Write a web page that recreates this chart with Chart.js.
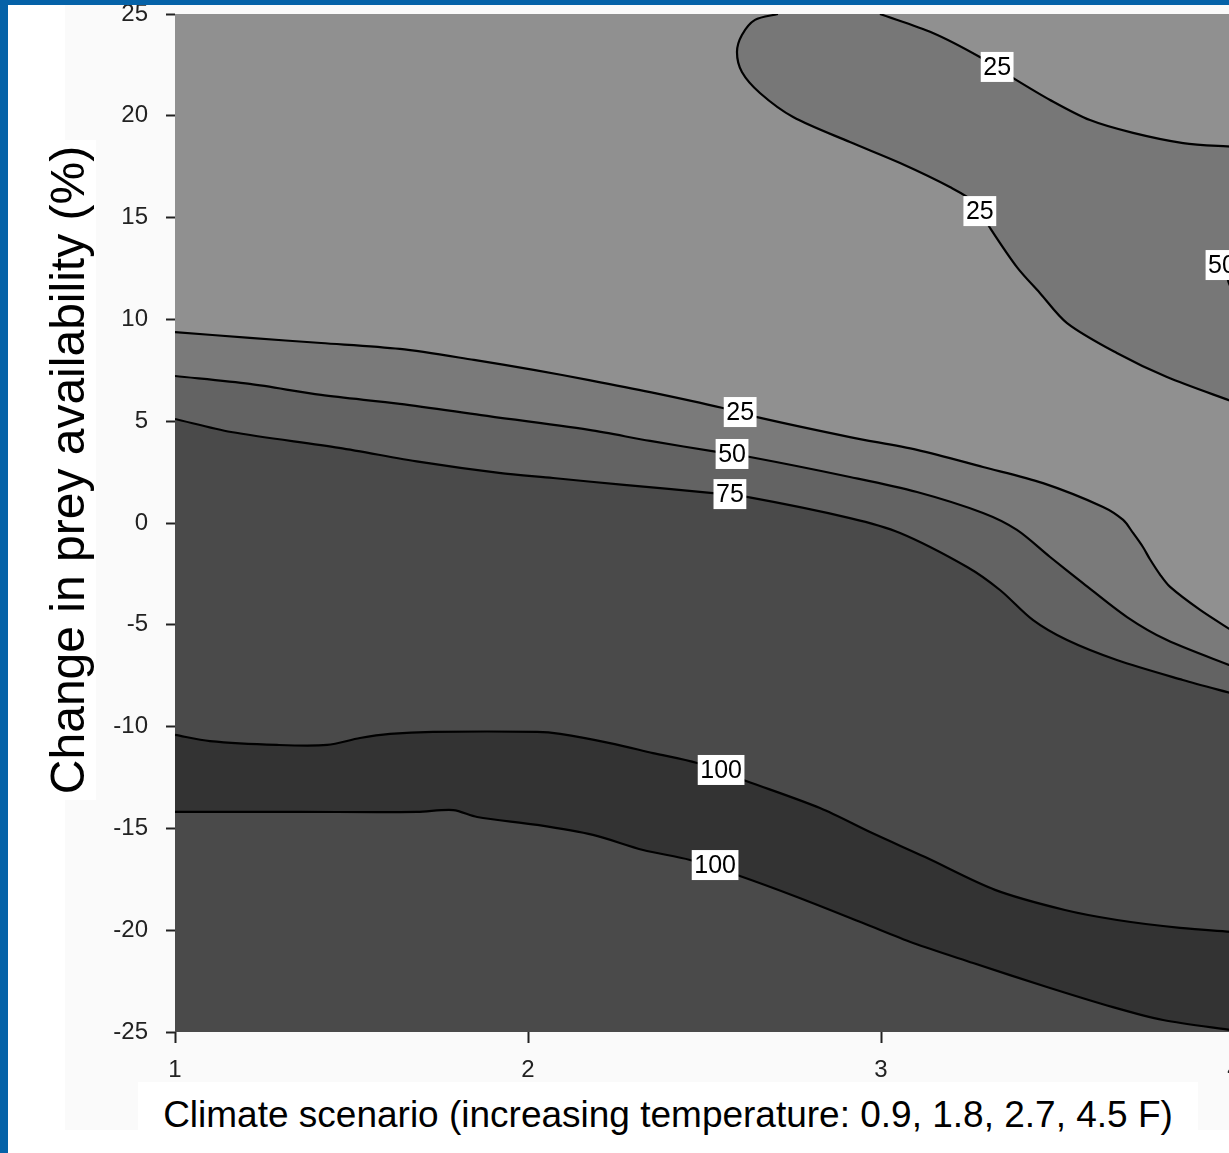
<!DOCTYPE html>
<html>
<head>
<meta charset="utf-8">
<script src="https://cdn.jsdelivr.net/npm/chart.js@4.4.1/dist/chart.umd.min.js"></script>
<style>
  body { margin: 0; background: #fff; overflow: hidden; width: 1229px; height: 1153px; position: relative;
         font-family: "Liberation Sans", Arial, sans-serif; }
  #panel { position: absolute; left: 65px; top: 5px; width: 1164px; height: 1125px; background: #fafafa; }
  #wrap { position: absolute; left: 0; top: 0; width: 1248px; height: 1153px; }
  #ytitle { position: absolute; left: -262px; top: 442px; width: 660px; height: 56px; line-height: 56px;
            transform: rotate(-90deg); background: #fff; text-align: center; font-size: 48px; color: #000; white-space: nowrap; }
  #xtitle { position: absolute; left: 138px; top: 1082px; width: 1060px; height: 66px; line-height: 66px;
            background: #fff; text-align: center; font-size: 37px; color: #000; white-space: nowrap; }
  .blue { position: absolute; background: #0562a8; }
</style>
</head>
<body>
<div id="panel"></div>
<div id="wrap"><canvas id="contour"></canvas></div>
<div id="ytitle">Change in prey availability (%)</div>
<div id="xtitle">Climate scenario (increasing temperature: 0.9, 1.8, 2.7, 4.5 F)</div>
<div class="blue" style="left:0;top:0;width:8px;height:1153px"></div>
<div class="blue" style="left:0;top:0;width:1229px;height:5px"></div>
<script>
// axis ticks
const xTicks = [1, 2, 3, 4];
const yTicks = [-25, -20, -15, -10, -5, 0, 5, 10, 15, 20, 25];

// contour lines (x = climate scenario, y = change in prey %)
const band25X = [1.000, 1.212, 1.414, 1.637, 1.847, 2.020, 2.173, 2.346, 2.552, 2.649, 2.912, 3.102, 3.289, 3.459, 3.629, 3.686, 3.714, 3.742, 3.762, 3.790, 3.819, 3.904, 4.000];
const band25Y = [9.38, 9.09, 8.84, 8.55, 8.01, 7.51, 7.02, 6.43, 5.65, 5.20, 4.22, 3.59, 2.75, 1.96, 0.79, 0.15, -0.49, -1.18, -1.78, -2.52, -3.14, -4.27, -5.35];

const band50X = [1.000, 1.212, 1.414, 1.637, 1.867, 2.173, 2.346, 2.535, 2.629, 2.912, 3.102, 3.289, 3.385, 3.479, 3.572, 3.697, 3.810, 4.000];
const band50Y = [7.22, 6.83, 6.29, 5.85, 5.30, 4.57, 4.03, 3.49, 3.24, 2.26, 1.52, 0.49, -0.34, -1.67, -2.95, -4.62, -5.75, -7.07];

const band75X = [1.000, 1.159, 1.465, 1.694, 1.918, 2.071, 2.272, 2.524, 2.620, 2.912, 3.054, 3.244, 3.337, 3.430, 3.527, 3.668, 3.855, 4.000];
const band75Y = [5.11, 4.47, 3.69, 3.00, 2.46, 2.21, 1.87, 1.47, 1.28, 0.24, -0.49, -2.16, -3.29, -4.76, -5.75, -6.73, -7.71, -8.40];

const ridge100TopX = [1.000, 1.099, 1.289, 1.431, 1.524, 1.609, 1.731, 2.026, 2.091, 2.232, 2.354, 2.479, 2.618, 2.827, 2.975, 3.125, 3.323, 3.521, 3.669, 3.847, 4.000];
const ridge100TopY = [-10.41, -10.71, -10.90, -10.90, -10.56, -10.36, -10.26, -10.26, -10.36, -10.81, -11.30, -11.79, -12.67, -14.00, -15.23, -16.41, -18.02, -19.01, -19.50, -19.89, -20.09];

const ridge100BottomX = [1.000, 1.354, 1.686, 1.788, 1.856, 2.026, 2.184, 2.326, 2.459, 2.592, 2.762, 2.949, 3.091, 3.261, 3.470, 3.657, 3.799, 4.000];
const ridge100BottomY = [-14.19, -14.19, -14.19, -14.10, -14.44, -14.83, -15.32, -16.06, -16.55, -17.29, -18.37, -19.65, -20.63, -21.61, -22.79, -23.78, -24.41, -24.92];

// the 25 "island" in the upper right
const islandLowX = [2.708, 2.643, 2.606, 2.592, 2.606, 2.657, 2.751, 2.912, 3.054, 3.195, 3.266, 3.309, 3.385, 3.450, 3.527, 3.668, 3.810, 4.000];
const islandLowY = [25.00, 24.71, 23.97, 23.13, 22.15, 21.12, 19.94, 18.71, 17.68, 16.50, 15.72, 14.49, 12.57, 11.30, 9.82, 8.35, 7.17, 5.94];
const islandHighX = [2.997, 3.147, 3.280, 3.374, 3.479, 3.592, 3.714, 3.856, 4.000];
const islandHighY = [25.00, 24.07, 22.89, 21.86, 20.78, 19.79, 19.16, 18.66, 18.47];

// 50 contour just touching the right edge
const edge50X = [4.02, 3.99, 3.978, 3.99, 4.02];
const edge50Y = [14.0, 13.0, 12.4, 11.6, 10.8];

// contour labels
const labelText = ['25', '50', '75', '25', '25', '50', '100', '100'];
const labelX = [2.601, 2.578, 2.572, 3.329, 3.280, 3.966, 2.547, 2.530];
const labelY = [5.45, 3.39, 1.42, 22.40, 15.32, 12.67, -12.13, -16.80];

const FONT = '"Liberation Sans", Arial, sans-serif';
Chart.defaults.font.family = FONT;

const pts = (xs, ys) => xs.map((x, i) => ({ x: x, y: ys[i] }));

function contour(data, fill, bg, order, stroke) {
  return {
    data: data,
    fill: fill,
    backgroundColor: bg,
    borderColor: '#000',
    borderWidth: stroke === false ? 0 : 2.2,
    pointRadius: 0,
    tension: 0.3,
    order: order
  };
}

// closed outline of the island: lower edge, then upper edge backwards.
// the joining points are repeated so the curve matches the stroked edges
const islandLow = pts(islandLowX, islandLowY);
const islandHigh = pts(islandHighX, islandHighY).reverse();
const islandShape = islandLow.concat([islandLow[islandLow.length - 1], islandHigh[0]], islandHigh);

const plotBackground = {
  id: 'plotBackground',
  beforeDatasetsDraw(chart) {
    const { ctx, chartArea: a } = chart;
    ctx.save();
    ctx.fillStyle = '#909090';
    ctx.fillRect(a.left, a.top, a.right - a.left, a.bottom - a.top);
    ctx.restore();
  }
};

const contourLabels = {
  id: 'contourLabels',
  afterDatasetsDraw(chart) {
    const { ctx, scales: { x, y } } = chart;
    ctx.save();
    ctx.font = '25px ' + FONT;
    ctx.textAlign = 'center';
    ctx.textBaseline = 'middle';
    labelText.forEach((t, i) => {
      const px = x.getPixelForValue(labelX[i]);
      const py = y.getPixelForValue(labelY[i]);
      const w = ctx.measureText(t).width + 5, h = 30;
      ctx.fillStyle = '#fff';
      ctx.fillRect(px - w / 2, py - h / 2, w, h);
      ctx.fillStyle = '#000';
      ctx.fillText(t, px, py + 1);
    });
    ctx.restore();
  }
};

new Chart(document.getElementById('contour'), {
  type: 'line',
  data: {
    datasets: [
      contour(pts(band25X, band25Y), 'start', '#7a7a7a', 20),
      contour(pts(band50X, band50Y), 'start', '#636363', 19),
      contour(pts(band75X, band75Y), 'start', '#4a4a4a', 18),
      contour(pts(ridge100TopX, ridge100TopY), 'start', '#333333', 17),
      contour(pts(ridge100BottomX, ridge100BottomY), 'start', '#4a4a4a', 16),
      contour(islandShape, 'shape', '#777777', 15, false),
      contour(islandLow, false, 'transparent', 14),
      contour(pts(islandHighX, islandHighY), false, 'transparent', 13),
      contour(pts(edge50X, edge50Y), 'shape', '#636363', 12)
    ]
  },
  options: {
    responsive: true,
    maintainAspectRatio: false,
    animation: false,
    layout: { padding: { top: 14, right: 14, left: 0, bottom: 0 } },
    plugins: { legend: { display: false }, tooltip: { enabled: false } },
    scales: {
      x: {
        type: 'linear',
        min: xTicks[0],
        max: xTicks[xTicks.length - 1],
        afterBuildTicks: s => { s.ticks = xTicks.map(v => ({ value: v })); },
        afterFit: s => { s.height = 121; s.paddingLeft = 0; s.paddingRight = 0; },
        border: { display: false },
        grid: { drawOnChartArea: false, drawTicks: true, tickLength: 11, tickWidth: 2, tickColor: '#222' },
        ticks: { color: '#222', font: { size: 24, lineHeight: 1 }, padding: 15, maxRotation: 0 }
      },
      y: {
        type: 'linear',
        min: yTicks[0],
        max: yTicks[yTicks.length - 1],
        afterBuildTicks: s => { s.ticks = yTicks.map(v => ({ value: v })); },
        afterFit: s => { s.width = 175; s.paddingTop = 0; s.paddingBottom = 0; },
        border: { display: false },
        grid: { drawOnChartArea: false, drawTicks: true, tickLength: 9, tickWidth: 2, tickColor: '#222' },
        ticks: { color: '#222', font: { size: 24, lineHeight: 1 }, padding: 18 }
      }
    }
  },
  plugins: [plotBackground, contourLabels]
});
</script>
</body>
</html>
